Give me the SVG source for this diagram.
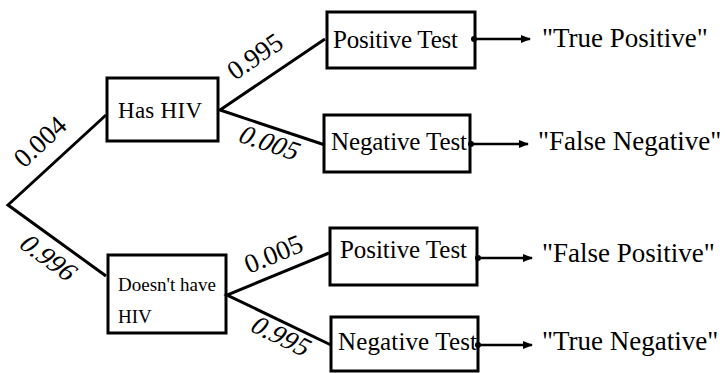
<svg xmlns="http://www.w3.org/2000/svg" width="725" height="373" viewBox="0 0 725 373">
<style>
text{font-family:"Liberation Serif","Times New Roman",serif;fill:#000}
.box{fill:#fff;stroke:#000;stroke-width:3}
.ln{fill:none;stroke:#000;stroke-width:3}
.ar{fill:none;stroke:#000;stroke-width:2.5}
.lbl{font-size:27px}
.node{font-size:25px}
.out{font-size:27px}
</style>
<defs>
<marker id="ah" markerWidth="10" markerHeight="8" refX="9" refY="4" orient="auto" markerUnits="userSpaceOnUse">
<path d="M0,0 L10,4 L0,8 Z" fill="#000"/>
</marker>
<marker id="dot" markerWidth="7" markerHeight="7" refX="3.5" refY="3.5" markerUnits="userSpaceOnUse">
<circle cx="3.5" cy="3.5" r="3" fill="#000"/>
</marker>
</defs>
<g id="has-hiv">
<rect class="box" x="107" y="78" width="111" height="63"/>
<text x="118" y="118" font-size="23" textLength="84">Has HIV</text>
</g>
<g id="no-hiv">
<rect class="box" x="108" y="255" width="118" height="78"/>
<text x="118" y="291" font-size="19" textLength="98">Doesn't have</text>
<text x="118" y="323" font-size="19">HIV</text>
</g>
<g id="pos-test-1">
<rect class="box" x="327" y="12" width="148" height="56"/>
<text class="node" x="333" y="48" textLength="125">Positive Test</text>
</g>
<g id="neg-test-1">
<rect class="box" x="324" y="115" width="146" height="57"/>
<text class="node" x="331" y="150" textLength="136">Negative Test</text>
</g>
<g id="pos-test-2">
<rect class="box" x="330" y="228" width="147" height="57"/>
<text class="node" x="340" y="258" textLength="127">Positive Test</text>
</g>
<g id="neg-test-2">
<rect class="box" x="331" y="317" width="147" height="54"/>
<text class="node" x="338" y="350" textLength="139">Negative Test</text>
</g>
<g id="true-positive"><text class="out" x="542" y="47">"True Positive"</text></g>
<g id="false-negative"><text class="out" x="538" y="150">"False Negative"</text></g>
<g id="false-positive"><text class="out" x="542" y="262">"False Positive"</text></g>
<g id="true-negative"><text class="out" x="542" y="350">"True Negative"</text></g>
<g id="connectors">
<polyline class="ln" points="106,115 8,205 106,276"/>
<polyline class="ln" points="325,39 220,110 325,145"/>
<polyline class="ln" points="329,253 227,295 331,345"/>
<line class="ar" x1="474" y1="39" x2="530" y2="39" marker-start="url(#dot)" marker-end="url(#ah)"/>
<line class="ar" x1="471" y1="144" x2="528" y2="144" marker-start="url(#dot)" marker-end="url(#ah)"/>
<line class="ar" x1="478" y1="258" x2="532" y2="258" marker-start="url(#dot)" marker-end="url(#ah)"/>
<line class="ar" x1="478" y1="345" x2="532" y2="345" marker-start="url(#dot)" marker-end="url(#ah)"/>
<text class="lbl" transform="translate(24,169) rotate(-43)">0.004</text>
<text class="lbl" transform="translate(17,246) rotate(36) skewX(-15)">0.996</text>
<text class="lbl" transform="translate(235,81) rotate(-34.6)">0.995</text>
<text class="lbl" transform="translate(236,141) rotate(18.4) skewX(-15)">0.005</text>
<text class="lbl" transform="translate(249,274) rotate(-22.6)">0.005</text>
<text class="lbl" transform="translate(248,330) rotate(25.9) skewX(-15)">0.995</text>
</g>
</svg>
